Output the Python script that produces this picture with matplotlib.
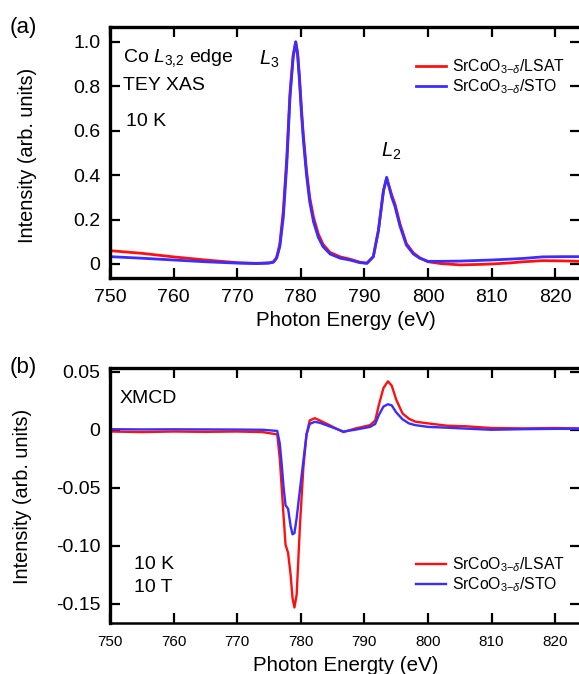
import matplotlib
matplotlib.use("Agg")
import matplotlib.pyplot as plt

plt.rcParams['font.family'] = ['Liberation Sans', 'DejaVu Sans']
plt.rcParams['mathtext.fontset'] = 'custom'
plt.rcParams['mathtext.rm'] = 'Liberation Sans'
plt.rcParams['mathtext.it'] = 'Liberation Sans:italic'
plt.rcParams['mathtext.bf'] = 'Liberation Sans:bold'

# ---------------- data ----------------
E_xas = [750, 755, 760, 765, 770, 773, 775, 775.7, 776.2, 776.7,
         777.25, 777.8, 778.3, 778.8, 779.2, 779.5, 779.8, 780.1, 780.4, 780.9,
         781.4, 782.0, 782.75, 783.5, 784.6, 786.2, 787.7, 789.3, 790.4, 791.4,
         792.2, 793.0, 793.5, 794.3, 794.8, 795.6, 796.6, 797.7, 798.7, 800,
         802, 805, 808, 810, 813, 815, 818, 821, 824]
xas_sto = [0.033, 0.026, 0.018, 0.010, 0.004, 0.002, 0.004, 0.008, 0.026, 0.078,
           0.21, 0.45, 0.75, 0.93, 0.999, 0.94, 0.82, 0.68, 0.56, 0.40,
           0.28, 0.19, 0.12, 0.078, 0.045, 0.026, 0.018, 0.006, 0.003, 0.033,
           0.15, 0.33, 0.39, 0.30, 0.26, 0.17, 0.085, 0.045, 0.026, 0.012,
           0.012, 0.013, 0.016, 0.018, 0.022, 0.025, 0.032, 0.033, 0.033]
xas_lsat = [0.060, 0.048, 0.032, 0.018, 0.006, 0.003, 0.005, 0.010, 0.030, 0.090,
            0.24, 0.48, 0.77, 0.94, 0.999, 0.95, 0.84, 0.70, 0.58, 0.42,
            0.30, 0.21, 0.135, 0.088, 0.052, 0.032, 0.022, 0.008, 0.004, 0.033,
            0.15, 0.33, 0.385, 0.31, 0.27, 0.18, 0.092, 0.050, 0.028, 0.010,
            0.002, -0.004, -0.002, 0.000, 0.005, 0.010, 0.015, 0.014, 0.012]

E_xmcd = [750, 755, 760, 765, 770, 774, 776.3, 776.7, 777.0, 777.3,
          777.6, 778.0, 778.4, 778.7, 779.0, 779.35, 779.6, 779.9, 780.4, 780.9,
          781.4, 782.2, 783.0, 784.5, 786.7, 788.5, 790.9, 791.7, 792.3, 793.0,
          793.7, 794.3, 795.0, 796.0, 797.0, 798.0, 800, 803, 806, 810,
          815, 820, 824]
xmcd_sto = [0.0005, 0.0003, 0.0004, 0.0003, 0.0002, 0.0000, -0.0010, -0.012, -0.030, -0.050,
            -0.065, -0.068, -0.083, -0.090, -0.089, -0.076, -0.064, -0.050, -0.027, -0.004,
            0.005, 0.0069, 0.006, 0.003, -0.0015, 0.000, 0.0025, 0.005, 0.013, 0.020,
            0.022, 0.021, 0.015, 0.009, 0.0055, 0.004, 0.0025, 0.0018, 0.001, 0.000,
            0.0005, 0.0008, 0.0008]
xmcd_lsat = [-0.0015, -0.002, -0.0015, -0.0018, -0.0015, -0.002, -0.004, -0.025, -0.050, -0.075,
             -0.099, -0.106, -0.125, -0.145, -0.153, -0.142, -0.113, -0.079, -0.033, -0.004,
             0.008, 0.010, 0.008, 0.004, -0.002, 0.001, 0.004, 0.008, 0.022, 0.036,
             0.0417, 0.038, 0.026, 0.014, 0.0095, 0.007, 0.0055, 0.0035, 0.003, 0.0015,
             0.0012, 0.0015, 0.0012]

xticks = [750, 760, 770, 780, 790, 800, 810, 820]
yticks_a = [0, 0.2, 0.4, 0.6, 0.8, 1.0]
yticklabels_a = ['0', '0.2', '0.4', '0.6', '0.8', '1.0']
yticks_b = [-0.15, -0.10, -0.05, 0, 0.05]
yticklabels_b = ['-0.15', '-0.10', '-0.05', '0', '0.05']
lab_lsat = r'SrCoO$_{3\mathrm{-}\delta}$/LSAT'
lab_sto = r'SrCoO$_{3\mathrm{-}\delta}$/STO'

RED = '#ff1010'
BLUE = '#3b2cff'

W, H = 579, 674
fig = plt.figure(figsize=(W / 100, H / 100), dpi=100)


def fx(px):
    return px / W


def fy(py):
    return 1 - py / H


ax1 = fig.add_axes([fx(110), fy(278), fx(470), fy(27) - fy(278)])
ax2 = fig.add_axes([fx(110), fy(623), fx(470), fy(368) - fy(623)])

for ax in (ax1, ax2):
    for s in ('left', 'top', 'bottom'):
        ax.spines[s].set_linewidth(2.4)
    ax.spines['right'].set_visible(False)
    ax.set_xlim(750, 823.9)
    ax.set_xticks(xticks)
    ax.tick_params(direction='in', length=7, width=1.6, top=True, right=True,
                   labelsize=14)
    ax.tick_params(axis='y', pad=7)
ax2.spines['bottom'].set_linewidth(1.8)

# top panel
ax1.plot(E_xas, xas_lsat, color=RED, lw=2.0, label=lab_lsat)
ax1.plot(E_xas, xas_sto, color=BLUE, lw=2.0, label=lab_sto)
ax1.set_ylim(-0.063, 1.066)
ax1.set_yticks(yticks_a)
ax1.set_yticklabels(yticklabels_a)
ax1.tick_params(axis='x', pad=8)
ax1.set_xlabel('Photon Energy (eV)', fontsize=14.8)
ax1.xaxis.set_label_coords(0.502, -0.133)
ax1.set_ylabel('Intensity (arb. units)', fontsize=14.3)
ax1.yaxis.set_label_coords(-0.155, 0.49)
ax1.legend(loc='upper left', bbox_to_anchor=(fx(416), fy(57)), bbox_transform=fig.transFigure,
           frameon=False, fontsize=11.3, handlelength=1.9, handletextpad=0.4,
           borderpad=0, borderaxespad=0, labelspacing=0.12)

fig.text(fx(10), fy(33), '(a)', fontsize=16, ha='left', va='baseline')
fig.text(fx(123), fy(62), r'Co $L_{3{,}2}$ edge', fontsize=14, ha='left', va='baseline')
fig.text(fx(123), fy(90), 'TEY XAS', fontsize=14, ha='left', va='baseline')
fig.text(fx(126), fy(126), '10 K', fontsize=14, ha='left', va='baseline')
fig.text(fx(259), fy(65), r'$L_3$', fontsize=14.5, ha='left', va='baseline')
fig.text(fx(381), fy(157), r'$L_2$', fontsize=14.5, ha='left', va='baseline')

# bottom panel
ax2.plot(E_xmcd, xmcd_lsat, color=RED, lw=1.7, label=lab_lsat)
ax2.plot(E_xmcd, xmcd_sto, color=BLUE, lw=1.7, label=lab_sto)
ax2.set_ylim(-0.1664, 0.0532)
ax2.set_yticks(yticks_b)
ax2.set_yticklabels(yticklabels_b)
ax2.tick_params(axis='x', labelsize=11, pad=9)
ax2.set_xlabel('Photon Energty (eV)', fontsize=14.8)
ax2.xaxis.set_label_coords(0.502, -0.128)
ax2.set_ylabel('Intensity (arb. units)', fontsize=14.3)
ax2.yaxis.set_label_coords(-0.166, 0.498)
ax2.legend(loc='upper left', bbox_to_anchor=(fx(416), fy(555)), bbox_transform=fig.transFigure,
           frameon=False, fontsize=11.3, handlelength=1.9, handletextpad=0.4,
           borderpad=0, borderaxespad=0, labelspacing=0.12)

fig.text(fx(10), fy(373), '(b)', fontsize=16, ha='left', va='baseline')
fig.text(fx(120), fy(403), 'XMCD', fontsize=14, ha='left', va='baseline')
fig.text(fx(134), fy(569), '10 K', fontsize=14, ha='left', va='baseline')
fig.text(fx(134), fy(592), '10 T', fontsize=14, ha='left', va='baseline')

fig.savefig('out.png', dpi=100)
